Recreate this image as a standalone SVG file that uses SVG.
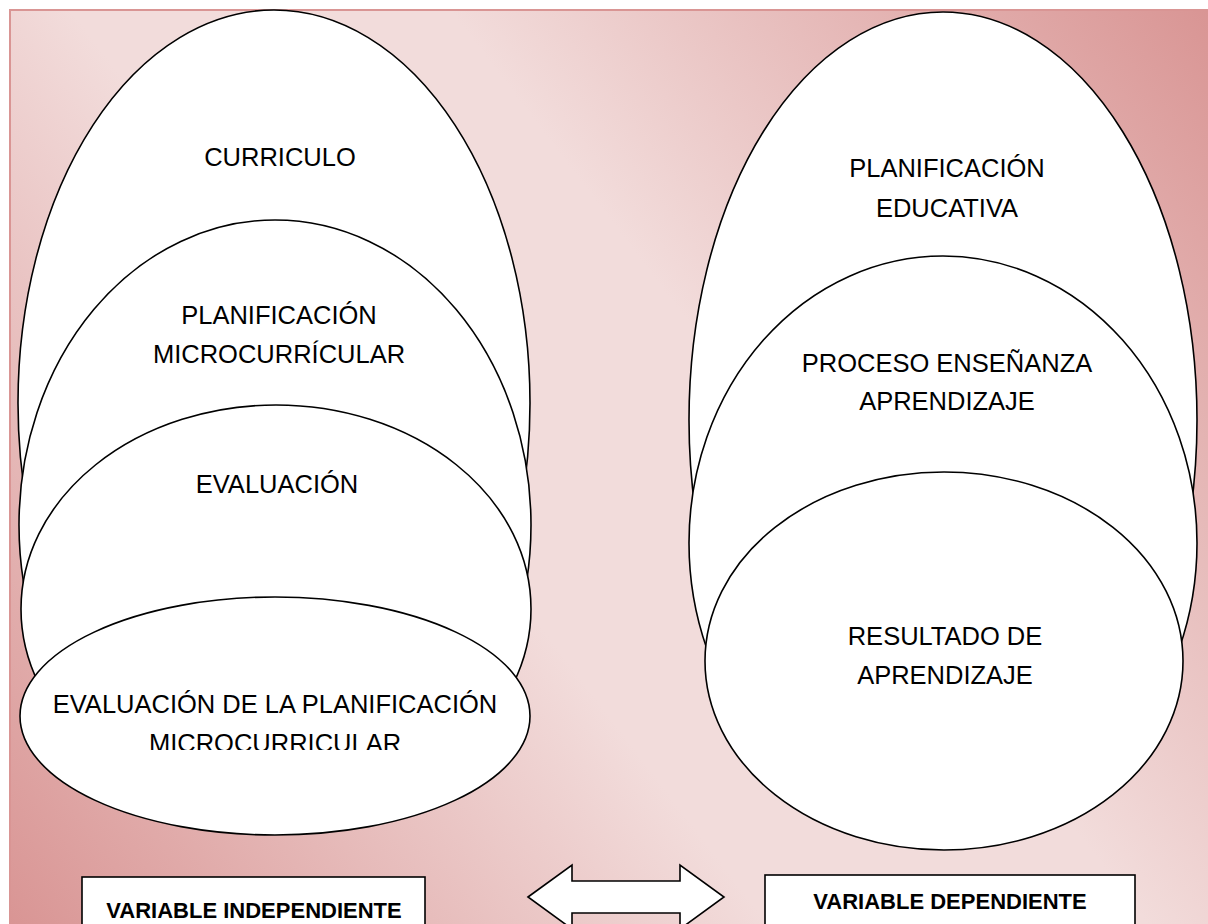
<svg xmlns="http://www.w3.org/2000/svg" width="1208" height="924" viewBox="0 0 1208 924">
<defs>
<linearGradient id="bg" gradientUnits="userSpaceOnUse" x1="1208" y1="10" x2="10" y2="924">
<stop offset="0" stop-color="#d99594"/>
<stop offset="0.4" stop-color="#f2dcdb"/>
<stop offset="0.6" stop-color="#f2dcdb"/>
<stop offset="1" stop-color="#d99594"/>
</linearGradient>
<clipPath id="clipL4"><rect x="0" y="0" width="600" height="750"/></clipPath>
</defs>
<style>
.el{fill:#ffffff;stroke:#000000;stroke-width:1.6}
.t{font-family:"Liberation Sans",Arial,sans-serif;font-size:25.5px;fill:#000000;text-anchor:middle}
.b{font-family:"Liberation Sans",Arial,sans-serif;font-size:22px;font-weight:bold;fill:#000000;text-anchor:middle}
.box{fill:#ffffff;stroke:#000000;stroke-width:1.6}
</style>
<rect x="0" y="0" width="1208" height="924" fill="#ffffff"/>
<rect x="10" y="10" width="1210" height="930" fill="url(#bg)" stroke="#d99594" stroke-width="2"/>

<g id="curriculo">
<ellipse class="el" cx="274" cy="403" rx="256" ry="393"/>
<text class="t" x="280" y="166">CURRICULO</text>
</g>
<g id="planificacion-micro">
<ellipse class="el" cx="275" cy="525" rx="256" ry="305"/>
<text class="t" x="279" y="324">PLANIFICACIÓN</text>
<text class="t" x="279" y="363">MICROCURRÍCULAR</text>
</g>
<g id="evaluacion">
<ellipse class="el" cx="276" cy="609" rx="255" ry="204"/>
<text class="t" x="277" y="493">EVALUACIÓN</text>
</g>
<g id="evaluacion-planificacion">
<ellipse class="el" cx="275" cy="716" rx="255" ry="119"/>
<g clip-path="url(#clipL4)">
<text class="t" x="275" y="713">EVALUACIÓN DE LA PLANIFICACIÓN</text>
<text class="t" x="275" y="752">MICROCURRICULAR</text>
</g>
</g>

<g id="planificacion-educativa">
<ellipse class="el" cx="943" cy="420" rx="254" ry="408"/>
<text class="t" x="947" y="177">PLANIFICACIÓN</text>
<text class="t" x="947" y="217">EDUCATIVA</text>
</g>
<g id="proceso">
<ellipse class="el" cx="943" cy="543" rx="254" ry="287"/>
<text class="t" x="947" y="372">PROCESO ENSEÑANZA</text>
<text class="t" x="947" y="410">APRENDIZAJE</text>
</g>
<g id="resultado">
<ellipse class="el" cx="944" cy="661" rx="239" ry="189"/>
<text class="t" x="945" y="645">RESULTADO DE</text>
<text class="t" x="945" y="684">APRENDIZAJE</text>
</g>

<g id="var-independiente">
<rect class="box" x="82" y="877" width="343" height="60"/>
<text class="b" x="254" y="918">VARIABLE INDEPENDIENTE</text>
</g>
<g id="var-dependiente">
<rect class="box" x="765" y="875" width="370" height="62"/>
<text class="b" x="950" y="909">VARIABLE DEPENDIENTE</text>
</g>

<g id="connectors">
<polygon class="box" points="528,897 572,865 572,881 680,881 680,865 724,897 680,929 680,913 572,913 572,929"/>
</g>
</svg>
